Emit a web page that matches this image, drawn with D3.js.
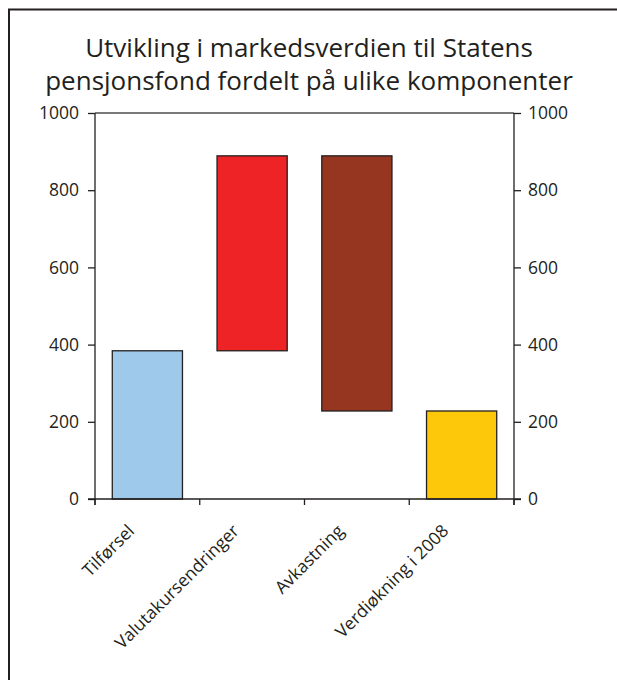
<!DOCTYPE html>
<html>
<head>
<meta charset="UTF-8">
<title>Statens pensjonsfond</title>
<style>
body { margin: 0; background: #fff; }
text { font-family: "Open Sans", "Noto Sans", sans-serif; fill: #231f20; }
.axis path, .axis line { stroke: #231f20; stroke-width: 1.3; }
.bar { stroke: #231f20; stroke-width: 1.3; }
</style>
<script src="https://d3js.org/d3.v7.min.js"></script>
</head>
<body>
<div id="chart"></div>
<script>
// data (milliarder kroner)
var categories = ["Tilførsel", "Valutakursendringer", "Avkastning", "Verdiøkning i 2008"];
var barStart = [0, 384, 889, 0];
var barEnd = [384, 889, 228, 228];
var barColors = ["#9fc9ea", "#ee2325", "#973620", "#fdc80a"];
var yTicks = [0, 200, 400, 600, 800, 1000];
var titleLines = ["Utvikling i markedsverdien til Statens", "pensjonsfond fordelt på ulike komponenter"];

var width = 617, height = 680;
var plotLeft = 95, plotRight = 514, plotTop = 113, plotBottom = 499;

var svg = d3.select("#chart").append("svg")
    .attr("width", width)
    .attr("height", height);

// frame (top and left edges visible)
svg.append("rect")
    .attr("x", 9).attr("y", 9.5)
    .attr("width", 700).attr("height", 700)
    .attr("fill", "none")
    .attr("stroke", "#231f20")
    .attr("stroke-width", 2);

svg.append("text")
    .attr("x", 309).attr("y", 57)
    .attr("text-anchor", "middle")
    .style("font-size", "26px")
    .selectAll("tspan")
    .data(titleLines)
    .enter().append("tspan")
    .attr("x", 309)
    .attr("dy", function(d, i) { return i == 0 ? 0 : 33; })
    .text(function(d) { return d; });

var x = d3.scaleBand()
    .domain(categories)
    .range([plotLeft, plotRight])
    .paddingInner(0.33)
    .paddingOuter(0.165);

var y = d3.scaleLinear()
    .domain([0, 1000])
    .range([plotBottom, plotTop]);

// top border of the plot
svg.append("line")
    .attr("x1", plotLeft).attr("x2", plotRight)
    .attr("y1", plotTop).attr("y2", plotTop)
    .attr("stroke", "#4d4d4f").attr("stroke-width", 1.3);

svg.selectAll(".bar")
    .data(categories)
    .enter().append("rect")
    .attr("class", "bar")
    .attr("x", function(d) { return x(d); })
    .attr("width", x.bandwidth())
    .attr("y", function(d, i) { return y(Math.max(barStart[i], barEnd[i])); })
    .attr("height", function(d, i) { return Math.abs(y(barStart[i]) - y(barEnd[i])); })
    .attr("fill", function(d, i) { return barColors[i]; });

var yLeft = svg.append("g")
    .attr("class", "axis")
    .attr("transform", "translate(" + plotLeft + ",0)")
    .call(d3.axisLeft(y).tickValues(yTicks).tickSize(7).tickPadding(9).tickFormat(d3.format("d")));

var yRight = svg.append("g")
    .attr("class", "axis")
    .attr("transform", "translate(" + plotRight + ",0)")
    .call(d3.axisRight(y).tickValues(yTicks).tickSize(7).tickPadding(7).tickFormat(d3.format("d")));

[yLeft, yRight].forEach(function(g) {
    g.select(".domain").remove();
    g.selectAll("text").style("font-size", "17.5px").style("font-family", null);
});
svg.append("line")
    .attr("x1", plotLeft).attr("x2", plotLeft)
    .attr("y1", plotTop).attr("y2", plotBottom + 6)
    .attr("stroke", "#231f20").attr("stroke-width", 1.3);
svg.append("line")
    .attr("x1", plotRight).attr("x2", plotRight)
    .attr("y1", plotTop).attr("y2", plotBottom + 6)
    .attr("stroke", "#231f20").attr("stroke-width", 1.3);

// x axis: ticks on band boundaries
var bounds = [plotLeft].concat(categories.map(function(d) { return x(d) + x.bandwidth() + x.step() * x.paddingInner() / 2; }));
bounds[bounds.length - 1] = plotRight;
var xAxis = svg.append("g").attr("class", "axis");
xAxis.append("line")
    .attr("x1", plotLeft - 7).attr("x2", plotRight + 7)
    .attr("y1", plotBottom).attr("y2", plotBottom);
xAxis.selectAll(".xtick")
    .data(bounds)
    .enter().append("line")
    .attr("x1", function(d) { return d; }).attr("x2", function(d) { return d; })
    .attr("y1", plotBottom).attr("y2", plotBottom + 6);

xAxis.selectAll(".xlabel")
    .data(categories)
    .enter().append("text")
    .attr("text-anchor", "end")
    .style("font-size", "17.5px")
    .attr("transform", function(d) {
        return "translate(" + (x(d) + x.bandwidth() / 2 - 12) + "," + 532 + ") rotate(-45)";
    })
    .text(function(d) { return d; });
</script>
</body>
</html>
